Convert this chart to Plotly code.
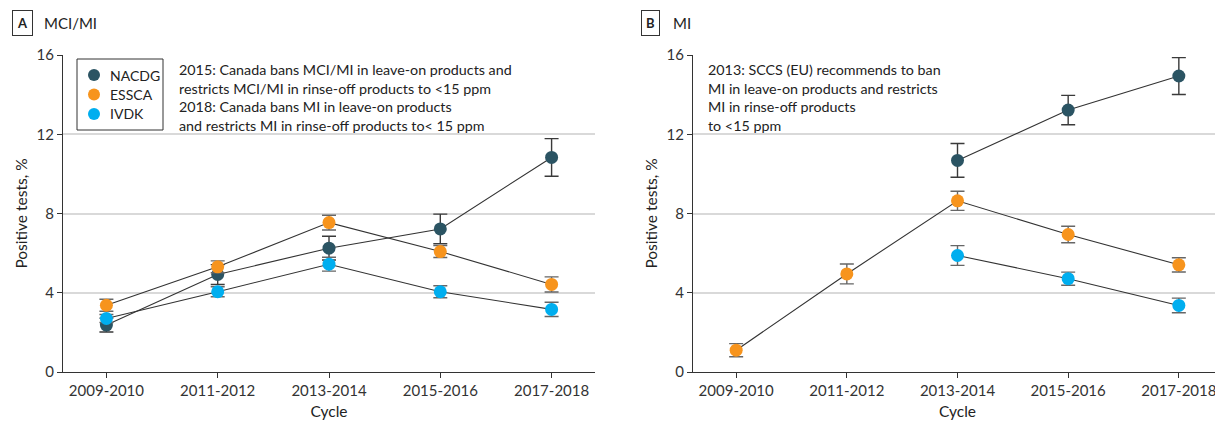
import plotly.graph_objects as go

cycles = ["2009-2010", "2011-2012", "2013-2014", "2015-2016", "2017-2018"]

# Panel A: MCI/MI
a_nacdg = [2.37, 4.92, 6.25, 7.22, 10.83]
a_nacdg_err = [0.35, 0.5, 0.6, 0.75, 0.95]
a_essca = [3.37, 5.31, 7.54, 6.08, 4.42]
a_essca_err = [0.3, 0.3, 0.37, 0.3, 0.38]
a_ivdk = [2.7, 4.05, 5.44, 4.05, 3.16]
a_ivdk_err = [0.2, 0.25, 0.35, 0.3, 0.36]

# Panel B: MI
b_nacdg = [None, None, 10.68, 13.22, 14.94]
b_nacdg_err = [0, 0, 0.85, 0.74, 0.93]
b_essca = [1.1, 4.95, 8.64, 6.94, 5.41]
b_essca_err = [0.33, 0.5, 0.48, 0.42, 0.36]
b_ivdk = [None, None, 5.88, 4.71, 3.36]
b_ivdk_err = [0, 0, 0.5, 0.33, 0.37]

series_names = ["NACDG", "ESSCA", "IVDK"]
colors = ["#2b5463", "#f7941d", "#00aeef"]
err_colors = ["#3a3a3a", "#666666", "#666666"]

ytick_vals = [0, 4, 8, 12, 16]

FONT = "Lato"
OFF = 8  # page body margin
W, H = 1223 - OFF, 424 - OFF
L, R, T, B = 55, 1, 47, 52
PW = W - L - R
PH = H - T - B


def px(xr):
    return (xr - OFF - L) / PW


def py(yr):
    return (H - B - (yr - OFF)) / PH


fig = go.Figure()

panels = [
    ("x", "y", [(a_nacdg, a_nacdg_err), (a_essca, a_essca_err), (a_ivdk, a_ivdk_err)]),
    ("x2", "y2", [(b_nacdg, b_nacdg_err), (b_essca, b_essca_err), (b_ivdk, b_ivdk_err)]),
]
xi = list(range(len(cycles)))
for xa, ya, data in panels:
    for (vals, errs), col, ecol, name in zip(data, colors, err_colors, series_names):
        fig.add_trace(go.Scatter(
            x=xi, y=vals, xaxis=xa, yaxis=ya, mode="lines+markers", name=name,
            line=dict(color="#333333", width=1.1),
            marker=dict(color=col, size=13),
            error_y=dict(type="data", array=errs, color=ecol, thickness=1.4, width=7),
            showlegend=False, connectgaps=False, hoverinfo="skip",
        ))

axis_common = dict(
    showline=True, linecolor="#333333", linewidth=1.2, ticks="outside",
    ticklen=5, tickcolor="#333333", tickfont=dict(family=FONT, size=15, color="#333333"),
    zeroline=False,
)
xdom_a = [0, px(595)]
xdom_b = [px(693), 1.0]

fig.update_layout(
    width=W, height=H,
    margin=dict(l=L, r=R, t=T, b=B),
    plot_bgcolor="white", paper_bgcolor="white",
    font=dict(family=FONT, color="#222222"),
    showlegend=False,
    xaxis=dict(domain=xdom_a, range=[-0.39, 4.39], tickvals=xi, ticktext=cycles,
               showgrid=False, title=dict(text="Cycle", font=dict(size=15.5), standoff=8), **axis_common),
    yaxis=dict(domain=[0, 1], range=[0, 16], tickvals=ytick_vals, showgrid=True,
               gridcolor="#d9d9d9", gridwidth=1.5,
               title=dict(text="Positive tests, %", font=dict(size=15.5), standoff=5), **axis_common),
    xaxis2=dict(domain=xdom_b, range=[-0.39, 4.39], tickvals=xi, ticktext=cycles, anchor="y2",
                showgrid=False, title=dict(text="Cycle", font=dict(size=15.5), standoff=8), **axis_common),
    yaxis2=dict(domain=[0, 1], range=[0, 16], tickvals=ytick_vals, anchor="x2", showgrid=True,
                gridcolor="#d9d9d9", gridwidth=1.5,
                title=dict(text="Positive tests, %", font=dict(size=15.5), standoff=5), **axis_common),
)

ann = []
shapes = []
# panel labels
for bx, tx, letter, title in [(22, 42, "A", "MCI/MI"), (650, 671, "B", "MI")]:
    ann.append(dict(x=px(bx), y=py(23), xref="paper", yref="paper", text="<b>" + letter + "</b>",
                    showarrow=False, xanchor="center", yanchor="middle",
                    font=dict(family=FONT, size=13, color="#222222"),
                    bordercolor="#333333", borderwidth=1, borderpad=4, bgcolor="white"))
    ann.append(dict(x=px(tx), y=py(23), xref="paper", yref="paper", text=title,
                    showarrow=False, xanchor="left", yanchor="middle",
                    font=dict(family=FONT, size=15, color="#222222")))

# legend box (panel A)
shapes.append(dict(type="rect", xref="paper", yref="paper",
                   x0=px(77), x1=px(163), y0=py(130), y1=py(59),
                   line=dict(color="#333333", width=1), fillcolor="white", layer="above"))
for i, (name, col) in enumerate(zip(series_names, colors)):
    yc = 75 + i * 19.5
    shapes.append(dict(type="circle", xref="paper", yref="paper",
                       xsizemode="pixel", ysizemode="pixel",
                       xanchor=px(94), yanchor=py(yc), x0=-6, x1=6, y0=-6, y1=6,
                       fillcolor=col, line=dict(width=0), layer="above"))
    ann.append(dict(x=px(108), y=py(yc), xref="paper", yref="paper", text=name,
                    showarrow=False, xanchor="left", yanchor="middle",
                    font=dict(family=FONT, size=14, color="#222222")))

ann.append(dict(x=px(177), y=py(59), xref="paper", yref="paper", showarrow=False,
                xanchor="left", yanchor="top", align="left",
                text="2015: Canada bans MCI/MI in leave-on products and<br>"
                     "restricts MCI/MI in rinse-off products to &lt;15 ppm<br>"
                     "2018: Canada bans MI in leave-on products<br>"
                     "and restricts MI in rinse-off products to&lt; 15 ppm",
                font=dict(family=FONT, size=14.3, color="#222222")))
ann.append(dict(x=px(706), y=py(59), xref="paper", yref="paper", showarrow=False,
                xanchor="left", yanchor="top", align="left",
                text="2013: SCCS (EU) recommends to ban<br>"
                     "MI in leave-on products and restricts<br>"
                     "MI in rinse-off products<br>"
                     "to &lt;15 ppm",
                font=dict(family=FONT, size=14.3, color="#222222")))
fig.update_layout(annotations=ann, shapes=shapes)

fig.write_html("out.html")
